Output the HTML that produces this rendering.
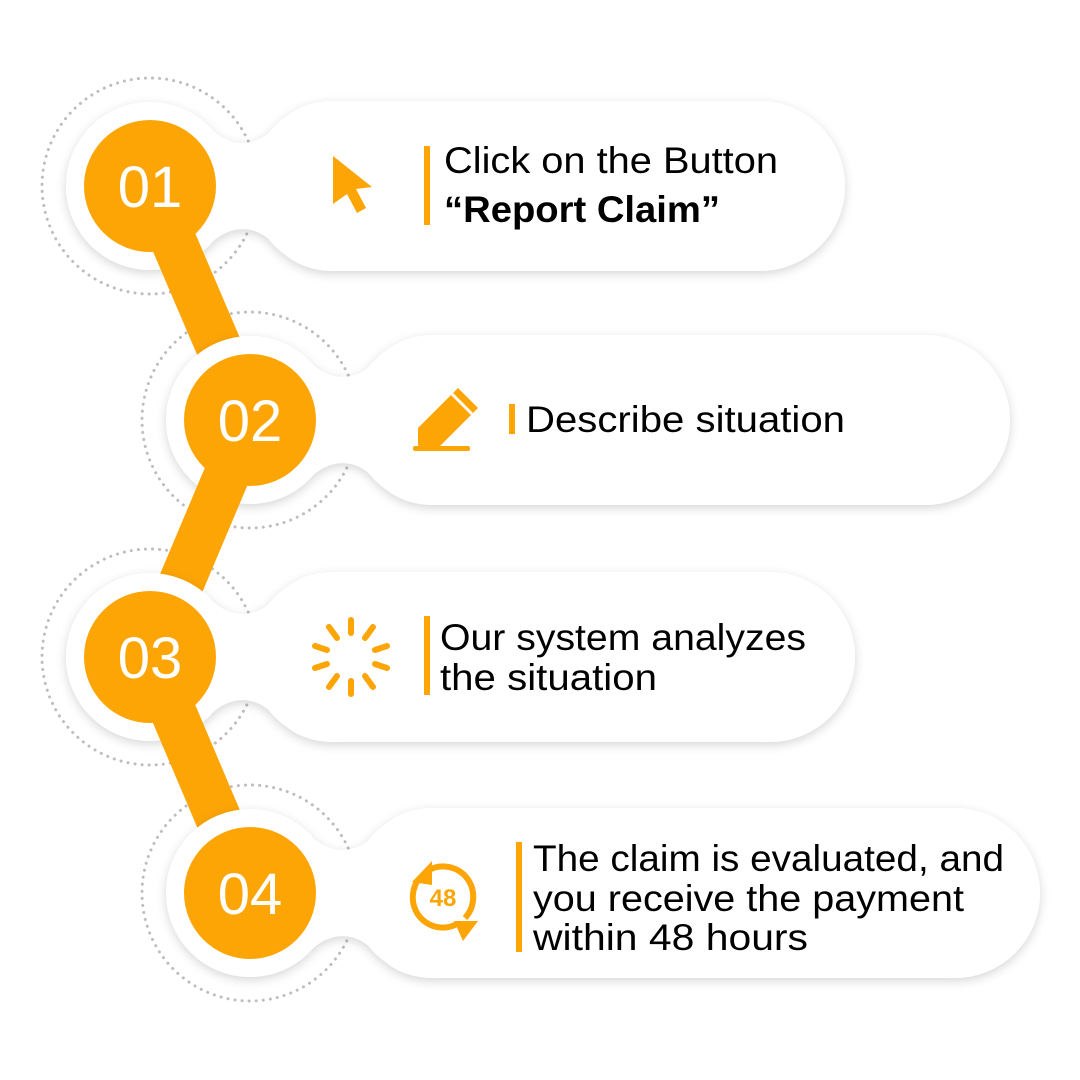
<!DOCTYPE html>
<html><head><style>
body{margin:0;background:#fff}
svg{display:block}
text{font-family:"Liberation Sans",sans-serif}
</style></head><body>
<svg width="1080" height="1080" viewBox="0 0 1080 1080" xmlns="http://www.w3.org/2000/svg">
<defs>
<filter id="sh" x="-20%" y="-30%" width="140%" height="160%">
<feDropShadow dx="0" dy="3" stdDeviation="5" flood-color="#000" flood-opacity="0.16"/>
</filter>
<g id="shape">
<circle cx="0" cy="0" r="84" fill="#fff"/>
<path d="M55,-63 C80,-35 108,-38 128,-62 C145,-80 165,-85 185,-85 L185,85 C165,85 145,80 128,62 C108,38 80,35 55,63 Z" fill="#fff"/>
</g>
</defs>
<g fill="none" stroke="#bdbdc2" stroke-width="3" stroke-dasharray="0.1 7" stroke-linecap="round">
<circle cx="150" cy="186" r="108"/>
<circle cx="250" cy="420" r="108"/>
<circle cx="150" cy="657" r="108"/>
<circle cx="250" cy="893" r="108"/>
</g>
<g filter="url(#sh)">
<use href="#shape" x="150" y="186"/>
<rect x="250" y="101" width="595" height="170" rx="85" fill="#fff"/>
</g>
<line x1="150" y1="186" x2="250" y2="420" stroke="#fda505" stroke-width="46"/>
<g filter="url(#sh)">
<use href="#shape" x="250" y="420"/>
<rect x="350" y="335" width="660" height="170" rx="85" fill="#fff"/>
</g>
<line x1="250" y1="420" x2="150" y2="657" stroke="#fda505" stroke-width="46"/>
<g filter="url(#sh)">
<use href="#shape" x="150" y="657"/>
<rect x="250" y="572" width="605" height="170" rx="85" fill="#fff"/>
</g>
<line x1="150" y1="657" x2="250" y2="893" stroke="#fda505" stroke-width="46"/>
<g filter="url(#sh)">
<use href="#shape" x="250" y="893"/>
<rect x="350" y="808" width="690" height="170" rx="85" fill="#fff"/>
</g>
<g fill="#fda505">
<circle cx="150" cy="186" r="66"/>
<circle cx="250" cy="420" r="66"/>
<circle cx="150" cy="657" r="66"/>
<circle cx="250" cy="893" r="66"/>
</g>
<g fill="#fff" font-size="58" text-anchor="middle">
<text x="150" y="207">01</text>
<text x="250" y="441">02</text>
<text x="150" y="678">03</text>
<text x="250" y="914">04</text>
</g>
<path d="M333,156 L372,187 L356,189 L366,208 L357,213 L347,194 L333,204 Z" fill="#fda505"/>
<g fill="#fda505">
<path d="M458,388 L478,408 L438,448 L421,448 L418,445 L418,428 Z"/>
<rect x="413" y="446" width="57" height="5" rx="2"/>
</g>
<path d="M452,394 L472,414" stroke="#fff" stroke-width="3"/>
<g stroke="#fda505" stroke-width="6" stroke-linecap="round" transform="translate(351,657)">
<line x1="0" y1="-24" x2="0" y2="-37"/>
<line x1="0" y1="24" x2="0" y2="37"/>
<line x1="-24" y1="-7" x2="-36" y2="-11"/>
<line x1="24" y1="-7" x2="36" y2="-11"/>
<line x1="-24" y1="7" x2="-36" y2="11"/>
<line x1="24" y1="7" x2="36" y2="11"/>
<line x1="-14" y1="-19" x2="-22" y2="-30"/>
<line x1="14" y1="-19" x2="22" y2="-30"/>
<line x1="-14" y1="19" x2="-22" y2="30"/>
<line x1="14" y1="19" x2="22" y2="30"/>
</g>
<g transform="translate(443,897)">
<path d="M-14,-27 A30,30 0 0 1 30,3 A30,30 0 0 1 22,21" fill="none" stroke="#fda505" stroke-width="6"/>
<path d="M14,27 A30,30 0 0 1 -30,-3 A30,30 0 0 1 -25,-17" fill="none" stroke="#fda505" stroke-width="6"/>
<path d="M-11,-36 L-11,-12 L-31,-15 Z" fill="#fda505"/>
<path d="M11,24 L35,24 L20,44 Z" fill="#fda505"/>
<text x="0" y="9" font-size="24" font-weight="bold" fill="#fda505" text-anchor="middle">48</text>
</g>
<g fill="#fda505">
<rect x="424" y="146" width="6" height="79"/>
<rect x="509" y="404" width="6" height="30"/>
<rect x="424" y="616" width="6" height="79"/>
<rect x="516" y="842" width="6" height="110"/>
</g>
<g fill="#000" font-size="37" lengthAdjust="spacingAndGlyphs">
<text x="444" y="173" textLength="334" lengthAdjust="spacingAndGlyphs">Click on the Button</text>
<text x="444" y="222" font-weight="bold" textLength="276" lengthAdjust="spacingAndGlyphs">“Report Claim”</text>
<text x="526" y="432" textLength="319" lengthAdjust="spacingAndGlyphs">Describe situation</text>
<text x="440" y="650" textLength="366" lengthAdjust="spacingAndGlyphs">Our system analyzes</text>
<text x="440" y="690" textLength="217" lengthAdjust="spacingAndGlyphs">the situation</text>
<text x="533" y="871" textLength="471" lengthAdjust="spacingAndGlyphs">The claim is evaluated, and</text>
<text x="533" y="911" textLength="431" lengthAdjust="spacingAndGlyphs">you receive the payment</text>
<text x="533" y="950" textLength="275" lengthAdjust="spacingAndGlyphs">within 48 hours</text>
</g>
</svg>
</body></html>
